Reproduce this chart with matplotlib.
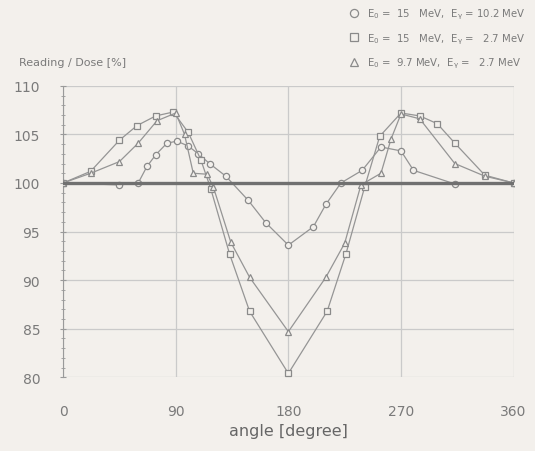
import matplotlib.pyplot as plt
import numpy as np

ang_c = [0, 45, 60, 67, 74, 83, 91, 100, 108, 117, 130, 148, 162, 180,
         200, 210, 222, 239, 254, 270, 280, 313, 360]
val_c = [100, 99.8, 100, 101.7, 102.9, 104.1, 104.3, 103.8, 103.0, 102.0, 100.7, 98.2, 95.9, 93.6,
         95.5, 97.8, 100.0, 101.3, 103.7, 103.3, 101.3, 99.9, 100]

ang_s = [0, 22, 45, 59, 74, 88, 100, 110, 118, 133, 149, 180,
         211, 226, 241, 253, 270, 285, 299, 313, 337, 360]
val_s = [100, 101.2, 104.4, 105.9, 106.9, 107.3, 105.2, 102.4, 99.4, 92.7, 86.8, 80.4,
         86.8, 92.7, 99.6, 104.8, 107.2, 106.9, 106.1, 104.1, 100.8, 100]

ang_t = [0, 22, 45, 60, 75, 90, 97, 104, 115, 120, 134, 149, 180,
         210, 225, 238, 254, 262, 270, 285, 313, 337, 360]
val_t = [100, 101.0, 102.2, 104.1, 106.4, 107.2, 105.0, 101.0, 100.9, 99.6, 93.9, 90.3, 84.7,
         90.3, 93.8, 99.8, 101.0, 104.5, 107.1, 106.6, 102.0, 100.7, 100]

legend_labels = [r'$\mathregular{E_0}$ =  15   MeV,  $\mathregular{E_\gamma}$ = 10.2 MeV',
                 r'$\mathregular{E_0}$ =  15   MeV,  $\mathregular{E_\gamma}$ =   2.7 MeV',
                 r'$\mathregular{E_0}$ =  9.7 MeV,  $\mathregular{E_\gamma}$ =   2.7 MeV']

bg = '#f3f0ec'
gray = '#959595'
txt = '#7a7a7a'

fig = plt.figure(figsize=(5.35, 4.52), dpi=100, facecolor=bg)
ax = fig.add_axes([0.118, 0.163, 0.842, 0.645], facecolor=bg)

ax.axhline(100, color='#707070', lw=2.4, zorder=4)

mk = dict(color=gray, lw=0.9, ms=4.5, mfc=bg, mec='#8a8a8a', mew=0.9, zorder=3)
ax.plot(ang_c, val_c, marker='o', label=legend_labels[0], **mk)
ax.plot(ang_s, val_s, marker='s', label=legend_labels[1], **mk)
ax.plot(ang_t, val_t, marker='^', label=legend_labels[2], **mk)

ax.set_xlim(0, 360)
ax.set_ylim(80, 110)
ax.set_xticks([0, 90, 180, 270, 360])
ax.set_yticks([80, 85, 90, 95, 100, 105, 110])
ax.set_yticks(np.arange(80, 111, 1), minor=True)
ax.grid(True, color='#cacaca', lw=0.9, zorder=0)
for s in ['top', 'right', 'bottom']:
    ax.spines[s].set_visible(False)
ax.spines['left'].set_color('#9a9a9a')
ax.tick_params(axis='y', which='both', direction='inout', colors='#9a9a9a', labelcolor=txt,
               labelsize=10, pad=14, length=5)
ax.tick_params(axis='y', which='minor', length=3)
ax.tick_params(axis='x', length=0, labelcolor=txt, labelsize=10, pad=19)

ax.set_xlabel('angle [degree]', color='#666666', fontsize=11.5, labelpad=4)
fig.text(0.035, 0.855, 'Reading / Dose [%]', color=txt, fontsize=8, ha='left')

leg = ax.legend(loc='lower right', bbox_to_anchor=(1.035, 1.04), frameon=False,
                fontsize=7.3, labelcolor=txt, handlelength=0, handletextpad=1.3,
                labelspacing=1.0, borderaxespad=0, markerscale=1.3)

fig.savefig('out.png', dpi=100, facecolor=bg)
